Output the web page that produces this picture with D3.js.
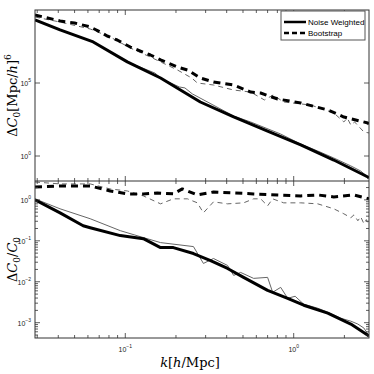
<!DOCTYPE html>
<html><head><meta charset="utf-8">
<script src="https://cdn.jsdelivr.net/npm/d3@7"></script>
<style>body{margin:0;background:#fff}svg{display:block}</style>
</head><body>
<script>
// ---- data (k in h/Mpc) ----
const topNWThickK = [0.0291,0.0410,0.0645,0.1028,0.162,0.279,0.440,0.700,1.101,1.730,2.757,2.80];
const topNWThickV = [2.07e9,4.3e8,6.5e7,2.8e6,2.2e5,5.0e3,470,51,5.7,0.53,0.0365,0.031];
const topNWThinK = [0.0291,0.0410,0.0645,0.1028,0.150,0.165,0.210,0.226,0.250,0.440,0.555,0.837,1.101,1.389,1.730,2.184,2.50,2.80];
const topNWThinV = [2.07e9,4.3e8,6.5e7,2.8e6,4.8e5,1.9e5,5.3e4,4.6e4,1.8e4,550,214,32,6.6,2.2,0.73,0.21,0.094,0.031];
const topBSThickK = [0.0291,0.0410,0.0500,0.0619,0.0710,0.0781,0.0896,0.1071,0.141,0.162,0.204,0.234,0.279,0.334,0.440,0.555,0.636,0.803,1.101,1.593,1.985,2.757,2.80];
const topBSThickV = [4.55e9,1.77e9,1.29e9,6.9e8,3.1e8,1.66e8,8.8e7,2.9e7,8.3e6,3.8e6,1.25e6,7.8e5,2.2e5,1.17e5,7.3e4,2.4e4,2.07e4,8.0e3,4.3e3,1.42e3,469,182,155];
const topBSThinK = [0.0291,0.0410,0.0619,0.0814,0.1071,0.141,0.204,0.248,0.268,0.334,0.440,0.555,0.670,0.755,0.872,1.262,1.730,1.985,2.08,2.184,2.30,2.612,2.80];
const topBSThinV = [3.3e9,1.5e9,5.0e8,1.4e8,2.5e7,6.0e6,7.8e5,2.2e5,1e5,7.3e4,3.3e4,2.4e4,6.9e3,1.5e4,5.0e3,3.1e3,890,214,400,132,214,44,38];

const botNWThickK = [0.0291,0.0410,0.0562,0.0619,0.0934,0.128,0.162,0.193,0.254,0.321,0.405,0.504,0.700,0.921,1.147,1.593,2.184,2.80];
const botNWThickV = [1.0,0.48,0.234,0.209,0.134,0.113,0.0684,0.0684,0.0489,0.033,0.0211,0.0128,0.00618,0.00395,0.00267,0.00171,0.000925,0.000473];
const botNWThinK = [0.0291,0.0410,0.0619,0.0934,0.128,0.162,0.254,0.291,0.334,0.405,0.440,0.484,0.578,0.700,0.750,0.837,0.921,1.02,1.147,1.389,1.593,1.90,2.184,2.404,2.612,2.80];
const botNWThinV = [1.06,0.605,0.346,0.177,0.12,0.0904,0.0723,0.028,0.037,0.025,0.0143,0.0169,0.0121,0.0128,0.00553,0.0073,0.00395,0.00442,0.00283,0.00226,0.00181,0.00129,0.00109,0.000925,0.00074,0.000473];
const botBSThickK = [0.0291,0.0410,0.0619,0.0814,0.1028,0.128,0.155,0.193,0.218,0.268,0.334,0.440,0.578,0.803,1.101,1.389,1.730,2.276,2.80];
const botBSThickV = [2.07,2.19,2.19,1.65,1.40,1.40,1.48,1.40,1.85,1.32,1.56,1.48,1.40,1.32,1.25,1.32,1.18,1.32,1.06];
const botBSThinK = [0.0291,0.0410,0.0619,0.0814,0.1028,0.128,0.162,0.193,0.234,0.268,0.291,0.334,0.405,0.504,0.578,0.636,0.700,0.750,0.872,1.101,1.389,1.730,1.985,2.184,2.28,2.404,2.50,2.612,2.70,2.80];
const botBSThinV = [2.73,2.45,2.45,1.85,1.65,1.25,0.80,1.06,1.06,0.846,0.483,0.894,0.80,0.846,1.06,1.06,0.715,1.06,0.846,0.846,0.80,0.605,0.457,0.366,0.43,0.309,0.387,0.261,0.33,0.234];

const legendLabels = ["Noise Weighted","Bootstrap"];
const xTickVals = [0.1, 1];
const xTickExp = ["\u22121","0"];
const topTickVals = [1, 1e5];
const topTickExp = ["0","5"];
const botTickVals = [1, 0.1, 0.01, 0.001];
const botTickExp = ["0","\u22121","\u22122","\u22123"];

// ---- layout ----
const W = 374, H = 374;
const L = 35, R = 369, T = 10, MID = 181, B = 338;
const svg = d3.select("body").append("svg").attr("width", W).attr("height", H)
  .style("font-family", "'Liberation Sans', Arial, sans-serif");

const x = d3.scaleLog().domain([0.0291, 2.80]).range([L, R]);
const yTop = d3.scaleLog().domain([0.0194, 1e10]).range([MID, T]);
const yBot = d3.scaleLog().domain([4.23e-4, 2.89]).range([B, MID]);

const defs = svg.append("defs");
defs.append("clipPath").attr("id","cTop").append("rect").attr("x",L).attr("y",T).attr("width",R-L).attr("height",MID-T);
defs.append("clipPath").attr("id","cBot").append("rect").attr("x",L).attr("y",MID).attr("width",R-L).attr("height",B-MID);

function series(g, ks, vs, yS, width, color, dash) {
  const line = d3.line().x(d => x(d[0])).y(d => yS(d[1]));
  g.append("path").datum(ks.map((k,i)=>[k, vs[i]]))
    .attr("d", line).attr("fill","none").attr("stroke", color)
    .attr("stroke-width", width).attr("stroke-dasharray", dash || null)
    .attr("stroke-linejoin","round");
}

const gTop = svg.append("g").attr("clip-path","url(#cTop)");
series(gTop, topNWThinK, topNWThinV, yTop, 1, "#666");
series(gTop, topBSThinK, topBSThinV, yTop, 1, "#666", "5,4");
series(gTop, topNWThickK, topNWThickV, yTop, 3, "#000");
series(gTop, topBSThickK, topBSThickV, yTop, 3, "#000", "7,5");

const gBot = svg.append("g").attr("clip-path","url(#cBot)");
series(gBot, botNWThinK, botNWThinV, yBot, 1, "#666");
series(gBot, botBSThinK, botBSThinV, yBot, 1, "#666", "5,4");
series(gBot, botNWThickK, botNWThickV, yBot, 3, "#000");
series(gBot, botBSThickK, botBSThickV, yBot, 3, "#000", "7,5");

// ---- axes ----
const axCol = "#333";
function logTicks(lo, hi) {
  const out = [];
  for (let e = Math.floor(Math.log10(lo)); e <= Math.ceil(Math.log10(hi)); e++)
    for (let m = 1; m < 10; m++) { const v = m * Math.pow(10, e); if (v >= lo && v <= hi) out.push(v); }
  return out;
}
const xAll = logTicks(0.0291, 2.80);
const isMajor = v => Math.abs(Math.log10(v) - Math.round(Math.log10(v))) < 1e-9;

[[B,-1],[MID,-1],[MID,1],[T,1]].forEach(([yy, dir]) => {
  svg.append("g").selectAll("line").data(xAll).join("line")
    .attr("x1", d => x(d)).attr("x2", d => x(d))
    .attr("y1", yy).attr("y2", d => yy + dir * (isMajor(d) ? 5 : 3))
    .attr("stroke", axCol).attr("stroke-width", 0.8);
});
const botAll = logTicks(4.23e-4, 2.89);
[[L,1],[R,-1]].forEach(([xx, dir]) => {
  svg.append("g").selectAll("line").data(botAll).join("line")
    .attr("y1", d => yBot(d)).attr("y2", d => yBot(d))
    .attr("x1", xx).attr("x2", d => xx + dir * (isMajor(d) ? 5 : 3))
    .attr("stroke", axCol).attr("stroke-width", 0.8);
});
[[L,1],[R,-1]].forEach(([xx, dir]) => {
  svg.append("g").selectAll("line").data(topTickVals).join("line")
    .attr("y1", d => yTop(d)).attr("y2", d => yTop(d))
    .attr("x1", xx).attr("x2", xx + dir * 5)
    .attr("stroke", axCol).attr("stroke-width", 0.8);
});

svg.append("rect").attr("x",L).attr("y",T).attr("width",R-L).attr("height",B-T)
  .attr("fill","none").attr("stroke",axCol).attr("stroke-width",1);
svg.append("line").attr("x1",L).attr("x2",R).attr("y1",MID).attr("y2",MID)
  .attr("stroke",axCol).attr("stroke-width",1);

function powLabel(xx, yy, exp, anchor) {
  const t = svg.append("text").attr("x", xx).attr("y", yy).attr("text-anchor", anchor)
    .attr("font-size", 7).attr("fill", "#222").attr("font-family","'Liberation Sans Narrow', 'Liberation Sans', sans-serif");
  t.append("tspan").text("10");
  t.append("tspan").attr("dy", -4).attr("font-size", 5).text(exp);
}
xTickVals.forEach((v,i) => powLabel(x(v), 352, xTickExp[i], "middle"));
topTickVals.forEach((v,i) => powLabel(L - 4, yTop(v) + 3, topTickExp[i], "end"));
botTickVals.forEach((v,i) => powLabel(L - 4, yBot(v) + 3, botTickExp[i], "end"));

const serif = "'DejaVu Serif', 'Liberation Serif', serif";
const yl1 = svg.append("text").attr("transform", `translate(17,${(T+MID)/2}) rotate(-90)`)
  .attr("text-anchor","middle").attr("font-family", serif).attr("font-size", 13).attr("fill","#000");
yl1.append("tspan").text("\u0394");
yl1.append("tspan").attr("font-style","italic").text("C");
yl1.append("tspan").attr("dy",3).attr("font-size",9).text("0");
yl1.append("tspan").attr("dy",-3).text("[Mpc/");
yl1.append("tspan").attr("font-style","italic").text("h");
yl1.append("tspan").text("]");
yl1.append("tspan").attr("dy",-6).attr("font-size",9).text("6");

const yl2 = svg.append("text").attr("transform", `translate(17,${(MID+B)/2}) rotate(-90)`)
  .attr("text-anchor","middle").attr("font-family", serif).attr("font-size", 13).attr("fill","#000");
yl2.append("tspan").text("\u0394");
yl2.append("tspan").attr("font-style","italic").text("C");
yl2.append("tspan").attr("dy",3).attr("font-size",9).text("0");
yl2.append("tspan").attr("dy",-3).text("/");
yl2.append("tspan").attr("font-style","italic").text("C");
yl2.append("tspan").attr("dy",3).attr("font-size",9).text("0");

const xl = svg.append("text").attr("x", 190).attr("y", 367).attr("text-anchor","middle")
  .attr("font-family", serif).attr("font-size", 13).attr("fill","#000");
xl.append("tspan").attr("font-style","italic").text("k");
xl.append("tspan").text("[");
xl.append("tspan").attr("font-style","italic").text("h");
xl.append("tspan").text("/Mpc]");

const lg = svg.append("g");
lg.append("rect").attr("x",281).attr("y",11).attr("width",84).attr("height",29)
  .attr("fill","#fff").attr("stroke","#555").attr("stroke-width",1);
legendLabels.forEach((lab,i) => {
  const yy = 22 + i * 11;
  lg.append("line").attr("x1",284).attr("x2",306).attr("y1",yy).attr("y2",yy)
    .attr("stroke","#000").attr("stroke-width",2.5).attr("stroke-dasharray", i ? "5,3" : null);
  lg.append("text").attr("x",308).attr("y",yy+3).attr("font-size",8).attr("fill","#000").text(lab);
});
</script>
</body></html>
